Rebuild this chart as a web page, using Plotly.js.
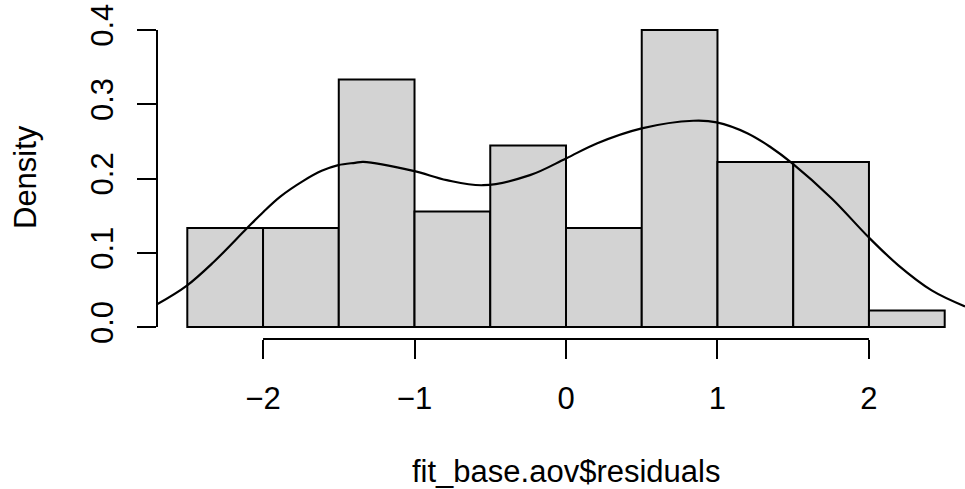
<!DOCTYPE html>
<html>
<head>
<meta charset="utf-8">
<script src="https://cdn.plot.ly/plotly-3.0.1.min.js"></script>
<style>
  html, body { margin: 0; padding: 0; background: #ffffff; }
  #chart { width: 965px; height: 489px; }
</style>
</head>
<body>
<div id="chart"></div>
<script>
// Histogram data
const breaks = [-2.5, -2.0, -1.5, -1.0, -0.5, 0.0, 0.5, 1.0, 1.5, 2.0, 2.5];
const counts = [6, 6, 15, 7, 11, 6, 18, 10, 10, 1];

// Kernel density curve
const densX = [-2.70, -2.505, -2.329, -2.108, -1.998, -1.888, -1.734, -1.613, -1.503, -1.393, -1.338,
               -1.008, -0.787, -0.546, -0.238, 0.0, 0.203, 0.5, 0.841, 0.995, 1.2,
               1.347, 1.494, 1.754, 2.0, 2.194, 2.414, 2.634];
const densY = [0.0306, 0.0555, 0.087, 0.1327, 0.155, 0.1753, 0.1968, 0.2103, 0.218, 0.2211, 0.2224,
               0.2103, 0.1978, 0.191, 0.2045, 0.227, 0.2472, 0.2675, 0.2777, 0.2756, 0.2607,
               0.2427, 0.2203, 0.1731, 0.1205, 0.0832, 0.0495, 0.0279];

// Axis ticks
const xTickVals = [-2, -1, 0, 1, 2];
const xTickText = ["\u22122", "\u22121", "0", "1", "2"];
const yTickVals = [0.0, 0.1, 0.2, 0.3, 0.4];
const yTickText = ["0.0", "0.1", "0.2", "0.3", "0.4"];

const xTitle = "fit_base.aov$residuals";
const yTitle = "Density";

const n = counts.reduce((a, b) => a + b, 0);
const mids = [], widths = [], dens = [];
for (let i = 0; i < counts.length; i++) {
  const w = breaks[i + 1] - breaks[i];
  mids.push((breaks[i] + breaks[i + 1]) / 2);
  widths.push(w);
  dens.push(counts[i] / (n * w));
}

const FONT = "Liberation Sans, Arial, Helvetica, sans-serif";
const FS = 31;

const traces = [
  {
    type: "bar",
    x: mids,
    y: dens,
    width: widths,
    marker: { color: "#D3D3D3", line: { color: "#000000", width: 2 } },
    hoverinfo: "skip",
    showlegend: false
  },
  {
    type: "scatter",
    mode: "lines",
    x: densX,
    y: densY,
    line: { color: "#000000", width: 2.2, shape: "spline", smoothing: 1 },
    hoverinfo: "skip",
    showlegend: false,
    cliponaxis: true
  }
];

const layout = {
  width: 965,
  height: 489,
  margin: { l: 157, r: 0, t: 18, b: 150 },
  paper_bgcolor: "#ffffff",
  plot_bgcolor: "#ffffff",
  font: { family: FONT, size: FS, color: "#000000" },
  showlegend: false,
  bargap: 0,
  xaxis: {
    range: [-2.70, 2.634],
    tickmode: "array",
    tickvals: xTickVals,
    ticktext: xTickText,
    ticks: "outside",
    ticklen: 19,
    tickwidth: 2,
    tickcolor: "#000000",
    showline: false,
    showgrid: false,
    zeroline: false,
    ticklabelstandoff: 13,
    tickfont: { family: FONT, size: FS, color: "#000000" },
    fixedrange: true
  },
  yaxis: {
    range: [-0.016, 0.416],
    tickmode: "array",
    tickvals: yTickVals,
    ticktext: yTickText,
    ticks: "outside",
    ticklen: 19,
    tickwidth: 2,
    tickcolor: "#000000",
    tickangle: -90,
    showline: false,
    showgrid: false,
    zeroline: false,
    ticklabelstandoff: 12,
    tickfont: { family: FONT, size: FS, color: "#000000" },
    fixedrange: true
  },
  shapes: [
    { type: "line", xref: "x", yref: "paper",
      x0: xTickVals[0], x1: xTickVals[xTickVals.length - 1], y0: 0, y1: 0,
      line: { color: "#000000", width: 2 } },
    { type: "line", xref: "paper", yref: "y",
      x0: 0, x1: 0, y0: yTickVals[0], y1: yTickVals[yTickVals.length - 1],
      line: { color: "#000000", width: 2 } }
  ],
  annotations: [
    { text: xTitle, xref: "x", yref: "paper", x: 0, y: 0, yshift: -132,
      xanchor: "center", yanchor: "middle", showarrow: false,
      font: { family: FONT, size: FS, color: "#000000" } },
    { text: yTitle, xref: "paper", yref: "y", x: 0, xshift: -132, y: 0.202,
      xanchor: "center", yanchor: "middle", textangle: -90, showarrow: false,
      font: { family: FONT, size: FS, color: "#000000" } }
  ]
};

Plotly.newPlot("chart", traces, layout, { staticPlot: true, displayModeBar: false });
</script>
</body>
</html>
